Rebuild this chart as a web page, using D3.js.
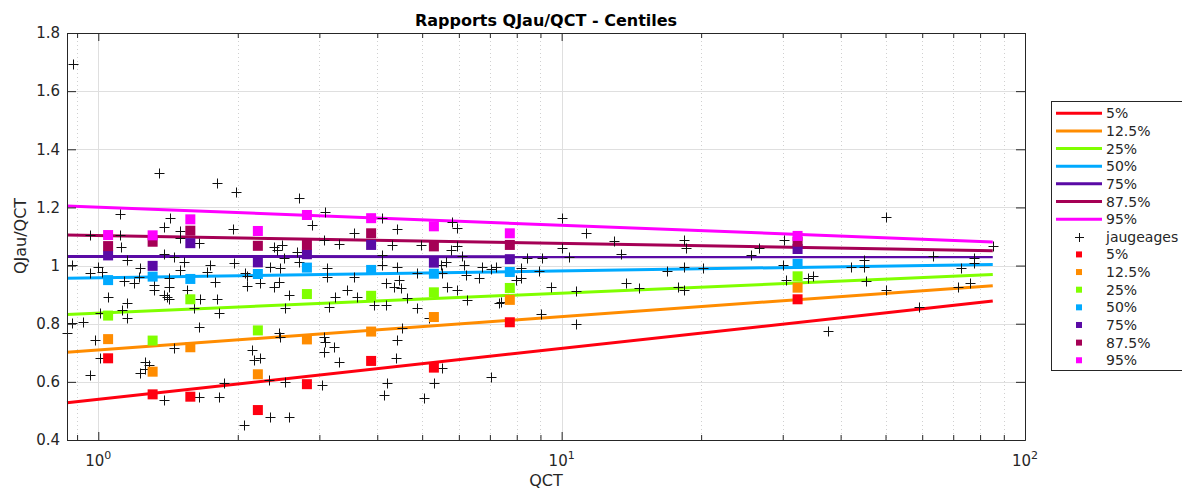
<!DOCTYPE html>
<html>
<head>
<meta charset="utf-8">
<script src="https://cdn.jsdelivr.net/npm/d3@7"></script>
<style>
body { margin: 0; background: #fff; }
svg { font-family: "DejaVu Sans", sans-serif; }
</style>
</head>
<body>
<svg width="1182" height="490"></svg>
<script>
// centile names and colours
var percentiles = ["5%", "12.5%", "25%", "50%", "75%", "87.5%", "95%"];
var colors = ["#ff0010", "#ff8c00", "#80ff00", "#00aaff", "#5a0aa5", "#a50055", "#ff00ff"];

// fitted lines: value at first and last QCT
var lineQ = [0.856, 85.2];
var lineStart = [0.528, 0.702, 0.832, 0.956, 1.031, 1.105, 1.205];
var lineEnd = [0.878, 0.931, 0.969, 1.004, 1.030, 1.051, 1.081];

// centile squares by QCT class
var centileQ = [1.05, 1.31, 1.58, 2.21, 2.82, 3.88, 5.30, 7.73, 32.3];
var p5 = [0.681, 0.557, 0.549, 0.503, 0.592, 0.672, 0.649, 0.805, 0.884];
var p12 = [0.747, 0.635, 0.719, 0.626, 0.746, 0.773, 0.823, 0.882, 0.924];
var p25 = [0.828, 0.742, 0.884, 0.777, 0.902, 0.896, 0.908, 0.923, 0.963];
var p50 = [0.950, 0.962, 0.954, 0.971, 0.993, 0.985, 0.972, 0.978, 1.006];
var p75 = [1.035, 0.999, 1.077, 1.011, 1.039, 1.071, 1.010, 1.022, 1.057];
var p87 = [1.067, 1.082, 1.120, 1.068, 1.071, 1.111, 1.066, 1.071, 1.082];
var p95 = [1.105, 1.104, 1.159, 1.119, 1.174, 1.163, 1.135, 1.111, 1.102];
var centiles = [p5, p12, p25, p50, p75, p87, p95];

// jaugeages (QCT, QJau/QCT)
var gaugeQ = [0.88, 1.35, 1.805, 1.984, 2.714, 1.112, 3.092, 1.426, 4.10, 1.388,
    1.954, 2.894, 4.417, 0.958, 1.112, 1.503, 1.503, 3.56, 1.646, 1.121,
    1.153, 2.391, 2.432, 2.494, 3.066, 3.304, 4.307, 2.687, 1.384, 1.454,
    1.529, 1.746, 1.960, 2.514, 2.708, 4.10, 4.10, 0.877, 1.00, 1.019,
    0.958, 1.232, 1.222, 1.503, 1.717, 2.078, 2.095, 2.352, 2.472, 3.119,
    3.119, 3.56, 4.417, 1.134, 1.192, 1.316, 1.316, 1.419, 1.419, 1.384,
    1.407, 1.554, 1.789, 2.095, 2.238, 2.391, 2.451, 2.576, 3.25, 3.444,
    3.62, 4.168, 4.344, 4.454, 4.49, 1.05, 1.153, 1.125, 1.153, 1.01,
    1.419, 1.661, 1.805, 1.819, 1.606, 2.535, 3.144, 3.932, 4.168, 0.929,
    0.877, 0.856, 1.646, 0.985, 1.01, 1.454, 2.451, 2.472, 3.066, 3.092,
    3.223, 3.066, 4.417, 4.529, 3.304, 4.38, 1.263, 1.284, 1.232, 1.263,
    0.958, 2.148, 2.165, 2.238, 1.865, 2.332, 2.535, 3.042, 4.203, 4.133,
    1.384, 1.646, 1.819, 2.352, 2.576, 2.06, 10.03, 5.807, 5.953, 11.27,
    12.97, 18.37, 4.96, 5.953, 10.03, 18.53, 26.68, 5.758, 6.103, 13.41,
    10.37, 25.6, 8.43, 9.08, 5.617, 5.479, 6.152, 6.742, 7.026, 7.203,
    8.155, 8.93, 6.204, 6.63, 4.88, 5.526, 16.92, 18.37, 20.14, 5.664,
    5.953, 7.955, 8.155, 9.47, 10.72, 13.75, 14.69, 17.81, 18.37, 4.88,
    6.256, 7.32, 7.38, 5.17, 9.01, 10.72, 5.526, 5.30, 7.026, 5.04,
    4.64, 50.1, 30.21, 85.15, 63.18, 77.7, 77.7, 44.97, 29.97, 42.1,
    44.84, 72.74, 30.46, 33.94, 34.8, 45.36, 50.1, 71.54, 76.2, 59.12, 37.5];
var gaugeRatio = [1.692, 1.317, 1.283, 1.254, 1.233, 1.176, 1.184, 1.165, 1.163, 1.132,
    1.127, 1.139, 1.127, 1.105, 1.105, 1.119, 1.094, 1.111, 1.077, 1.065,
    1.019, 1.065, 1.054, 1.071, 1.088, 1.074, 1.071, 1.048, 1.039, 1.028,
    1.013, 1.002, 1.008, 1.025, 1.013, 1.036, 1.002, 1.002, 0.996, 0.979,
    0.976, 0.991, 0.962, 0.985, 0.979, 0.973, 0.964, 0.996, 0.991, 0.991,
    0.962, 0.962, 0.996, 0.948, 0.939, 0.933, 0.916, 0.956, 0.927, 0.899,
    0.893, 0.916, 0.945, 0.930, 0.939, 0.927, 0.945, 0.899, 0.893, 0.916,
    0.893, 0.939, 0.927, 0.950, 0.922, 0.893, 0.872, 0.847, 0.819, 0.836,
    0.884, 0.884, 0.884, 0.838, 0.853, 0.853, 0.859, 0.864, 0.864, 0.807,
    0.801, 0.767, 0.790, 0.744, 0.681, 0.715, 0.767, 0.755, 0.755, 0.738,
    0.721, 0.704, 0.744, 0.784, 0.669, 0.681, 0.669, 0.658, 0.629, 0.643,
    0.624, 0.710, 0.675, 0.681, 0.595, 0.606, 0.601, 0.589, 0.595, 0.555,
    0.538, 0.549, 0.549, 0.480, 0.480, 0.452, 1.163, 1.151, 1.128, 1.111,
    1.086, 1.088, 1.071, 1.067, 1.059, 1.059, 1.059, 1.054, 1.033, 1.040,
    1.031, 1.036, 1.025, 1.025, 1.013, 1.002, 1.002, 0.994, 0.987, 0.994,
    0.991, 0.982, 0.968, 0.956, 0.973, 0.973, 0.982, 0.994, 0.991, 0.927,
    0.916, 0.950, 0.956, 0.927, 0.914, 0.939, 0.922, 0.927, 0.916, 0.853,
    0.882, 0.870, 0.876, 0.819, 0.833, 0.799, 0.647, 0.595, 0.618, 0.543,
    0.887, 1.168, 1.088, 1.067, 1.033, 1.025, 1.010, 1.019, 1.002, 0.996,
    0.996, 0.991, 0.950, 0.956, 0.964, 0.948, 0.916, 0.927, 0.939, 0.859, 0.776];

var yTicks = [0.4, 0.6, 0.8, 1, 1.2, 1.4, 1.6, 1.8];
var xMajor = [1, 10, 100];
var xMinor = [0.9, 2, 3, 4, 5, 6, 7, 8, 9, 20, 30, 40, 50, 60, 70, 80, 90];

var axisColor = "#262626";
var gridColor = "#dfdfdf";
var svg = d3.select("svg");
var x = d3.scaleLog().domain([0.856, 100]).range([67, 1025]);
var y = d3.scaleLinear().domain([0.4, 1.8]).range([440, 33]);

// grid
var grid = svg.append("g");
grid.selectAll("line.gy").data(yTicks).enter().append("line")
    .attr("x1", 67).attr("x2", 1025)
    .attr("y1", d => Math.round(y(d)) + 0.5).attr("y2", d => Math.round(y(d)) + 0.5)
    .attr("stroke", gridColor);
grid.selectAll("line.gx").data(xMajor.slice(0, 2)).enter().append("line")
    .attr("x1", d => Math.round(x(d)) + 0.5).attr("x2", d => Math.round(x(d)) + 0.5)
    .attr("y1", 33).attr("y2", 440)
    .attr("stroke", gridColor);
grid.selectAll("line.gm").data(xMinor).enter().append("line")
    .attr("x1", d => Math.round(x(d)) + 0.5).attr("x2", d => Math.round(x(d)) + 0.5)
    .attr("y1", 33).attr("y2", 440)
    .attr("stroke", "#d0d0d0").attr("stroke-dasharray", "1,3");

// fitted lines
percentiles.forEach((p, i) => {
    var pts = [[lineQ[0], lineStart[i]], [lineQ[1], lineEnd[i]]];
    svg.append("path")
        .attr("d", d3.line().x(d => x(d[0])).y(d => y(d[1]))(pts))
        .attr("stroke", colors[i]).attr("stroke-width", 3).attr("fill", "none");
});

// jaugeages
var cross = "M-5,0H5M0,-5V5";
svg.append("g").selectAll("path").data(gaugeQ).enter().append("path")
    .attr("d", cross)
    .attr("transform", (d, i) => `translate(${Math.round(x(d)) + 0.5},${Math.round(y(gaugeRatio[i])) + 0.5})`)
    .attr("stroke", "#111").attr("stroke-width", 1);

// centile squares
centiles.forEach((vals, i) => {
    svg.append("g").selectAll("rect").data(vals).enter().append("rect")
        .attr("x", (d, j) => x(centileQ[j]) - 5)
        .attr("y", d => y(d) - 5)
        .attr("width", 10).attr("height", 10)
        .attr("fill", colors[i]);
});

// axes (ticks pointing inward, box on)
function styleAxis(g) {
    g.selectAll("path, line").attr("stroke", axisColor);
    g.selectAll("text").attr("fill", axisColor).attr("font-size", 15)
        .attr("font-family", "DejaVu Sans");
}
svg.append("g").attr("transform", "translate(0,440)")
    .call(d3.axisBottom(x).tickValues(xMajor).tickSize(-8).tickSizeOuter(0).tickFormat(""))
    .call(styleAxis);
svg.append("g").attr("transform", "translate(0,440)")
    .call(d3.axisBottom(x).tickValues(xMinor).tickSize(-5).tickSizeOuter(0).tickFormat(""))
    .call(styleAxis);
svg.append("g").attr("transform", "translate(0,33)")
    .call(d3.axisTop(x).tickValues(xMajor).tickSize(-8).tickSizeOuter(0).tickFormat(""))
    .call(styleAxis);
svg.append("g").attr("transform", "translate(0,33)")
    .call(d3.axisTop(x).tickValues(xMinor).tickSize(-5).tickSizeOuter(0).tickFormat(""))
    .call(styleAxis);
svg.append("g").attr("transform", "translate(67,0)")
    .call(d3.axisLeft(y).tickValues(yTicks).tickSize(-9).tickSizeOuter(0).tickPadding(7).tickFormat(d3.format("~g")))
    .call(styleAxis);
svg.append("g").attr("transform", "translate(1025,0)")
    .call(d3.axisRight(y).tickValues(yTicks).tickSize(-9).tickSizeOuter(0).tickFormat(""))
    .call(styleAxis);

// x tick labels 10^n
var xl = svg.append("g").selectAll("text").data(xMajor).enter().append("text")
    .attr("x", d => x(d)).attr("y", 466)
    .attr("text-anchor", "middle").attr("font-size", 15).attr("fill", axisColor);
xl.append("tspan").text("10");
xl.append("tspan").attr("dy", -7).attr("font-size", 11).text(d => Math.round(Math.log10(d)));

// titles
svg.append("text").attr("x", 546).attr("y", 26).attr("text-anchor", "middle")
    .attr("font-size", 16).attr("font-weight", "bold").attr("fill", "#000")
    .text("Rapports QJau/QCT - Centiles");
svg.append("text").attr("x", 546).attr("y", 486).attr("text-anchor", "middle")
    .attr("font-size", 16).attr("fill", axisColor).text("QCT");
svg.append("text").attr("transform", "translate(26,236) rotate(-90)").attr("text-anchor", "middle")
    .attr("font-size", 16).attr("fill", axisColor).text("QJau/QCT");

// legend
var leg = svg.append("g");
leg.append("rect").attr("x", 1051.5).attr("y", 101.5).attr("width", 140).attr("height", 269)
    .attr("fill", "#fff").attr("stroke", axisColor);
var rowY = i => 113.3 + i * 17.64;
var legendLabels = percentiles.concat(["jaugeages"], percentiles);
legendLabels.forEach((label, i) => {
    var cy = rowY(i);
    if (i < 7) {
        leg.append("line").attr("x1", 1056).attr("x2", 1102).attr("y1", cy).attr("y2", cy)
            .attr("stroke", colors[i]).attr("stroke-width", 3);
    } else if (i === 7) {
        leg.append("path").attr("d", "M-4.5,0H4.5M0,-4.5V4.5")
            .attr("transform", `translate(${1079.5},${Math.round(cy) + 0.5})`)
            .attr("stroke", "#111");
    } else {
        leg.append("rect").attr("x", 1076).attr("y", cy - 3).attr("width", 6).attr("height", 6)
            .attr("fill", colors[i - 8]);
    }
    leg.append("text").attr("x", 1106).attr("y", cy).attr("dy", "0.36em")
        .attr("font-size", 14).attr("fill", axisColor).text(label);
});
</script>
</body>
</html>
